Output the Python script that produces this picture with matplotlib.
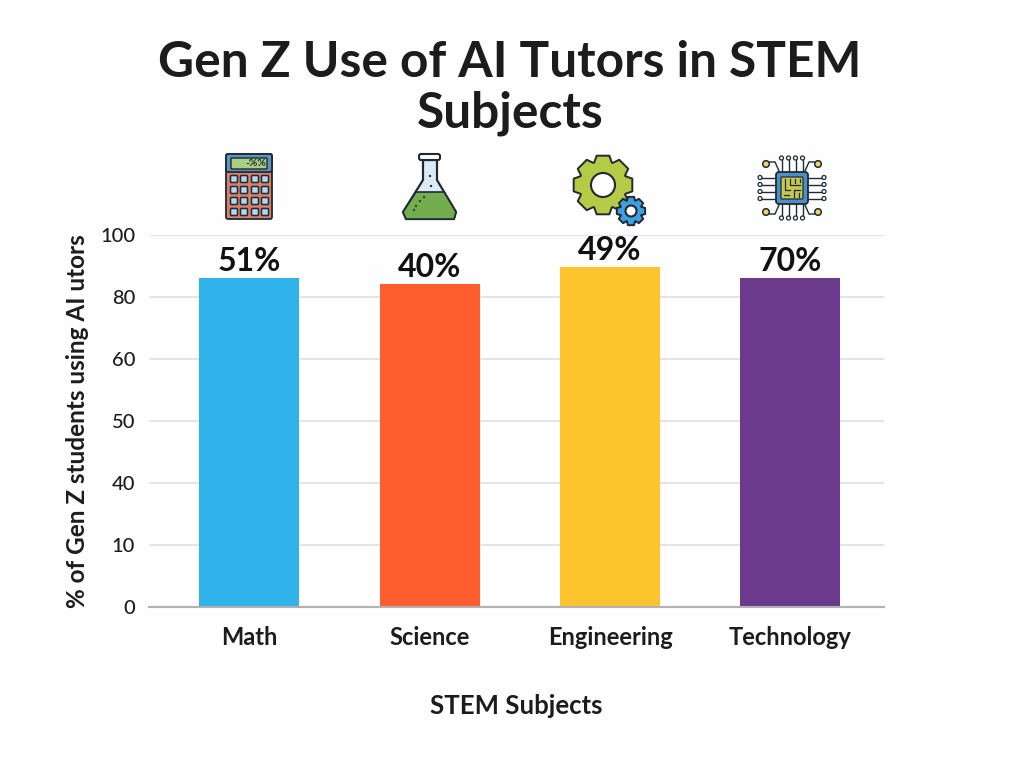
import numpy as np
import matplotlib
matplotlib.use("Agg")
import matplotlib.pyplot as plt
from matplotlib.patches import Rectangle, FancyBboxPatch, Polygon, Circle

# ---- data ----
title = "Gen Z Use of AI Tutors in STEM\nSubjects"
subjects = ["Math", "Science", "Engineering", "Technology"]
bar_heights = [86.1, 84.2, 89.7, 86.1]       # heights as drawn on the axis
value_labels = ["51%", "40%", "49%", "70%"]  # labels as printed
bar_colors = ["#2fb3ea", "#fe5d2f", "#fdc42e", "#6b3a8c"]
y_ticks = [0, 10, 40, 50, 60, 80, 100]       # unevenly valued, evenly spaced
y_label = "% of Gen Z students using AI utors"
x_label = "STEM Subjects"

plt.rcParams["font.family"] = ["Lato", "DejaVu Sans"]
INK = "#1c1c1c"
W, H = 1024, 768
fig = plt.figure(figsize=(W / 100, H / 100), dpi=100, facecolor="#fefefe")
ax = fig.add_axes([149 / W, (H - 607) / H, 735 / W, 372 / H], facecolor="#fefefe")

slots = np.arange(len(y_ticks), dtype=float)
ax.set_yscale("function", functions=(lambda v: np.interp(v, y_ticks, slots),
                                     lambda s: np.interp(s, slots, y_ticks)))
ax.set_ylim(0, 100)
ax.set_yticks(y_ticks)
ax.set_yticklabels([str(t) for t in y_ticks], fontsize=14.5, fontweight="medium", color=INK)
ax.minorticks_off()
ax.grid(axis="y", color="#e4e4e4", lw=1.4, zorder=0)
ax.set_axisbelow(True)

x = np.arange(len(subjects))
bars = ax.bar(x, bar_heights, width=0.555, color=bar_colors, zorder=2)
for rect, lab in zip(bars, value_labels):
    ax.annotate(lab, (rect.get_x() + rect.get_width() / 2, rect.get_height()),
                xytext=(0, 12), textcoords="offset points", ha="center", va="center",
                fontsize=23, fontweight="bold", color="#111111")
ax.set_xlim(-0.557, 3.519)
ax.set_xticks(x)
ax.set_xticklabels(subjects, fontsize=17, fontweight="bold", color=INK)
ax.tick_params(axis="both", length=0)
ax.tick_params(axis="x", pad=14)
ax.tick_params(axis="y", pad=10)
for s in ["top", "left", "right"]:
    ax.spines[s].set_visible(False)
ax.spines["bottom"].set_color("#b2b2b2")
ax.spines["bottom"].set_linewidth(1.5)

ax.set_xlabel(x_label, fontsize=18.5, fontweight="bold", color=INK, labelpad=32)
ax.set_ylabel(y_label, fontsize=17.5, fontweight="bold", color=INK, labelpad=8)
fig.text(510 / W, 1 - 88 / H, title, ha="center", va="center", fontsize=35.7,
         fontweight="bold", color=INK, linespacing=1.15)

# ---- icons, drawn on a pixel overlay ----
ov = fig.add_axes([0, 0, 1, 1], facecolor="none")
ov.set_xlim(0, W); ov.set_ylim(H, 0); ov.axis("off")
K = "#1f2a33"

def round_box(x0, y0, w, h, fc, r=2, lw=1.3, ec=K, z=5):
    ov.add_patch(FancyBboxPatch((x0 + r, y0 + r), w - 2 * r, h - 2 * r,
                                boxstyle=f"round,pad={r},rounding_size={r}",
                                fc=fc, ec=ec, lw=lw, zorder=z))

# calculator
round_box(226, 154, 46, 65, "#d9806c", r=2)
round_box(226, 154, 46, 18, "#5f93bd", r=2, z=6)
round_box(231, 158, 36, 11, "#a9cf80", r=1, lw=1, z=7)
ov.text(256, 163.5, "-%%", ha="center", va="center", fontsize=7.5, fontweight="bold", color=K, zorder=8)
for yy in [179, 190, 201, 212]:
    for xx in [234, 244, 255, 265]:
        round_box(xx - 3.5, yy - 3.5, 7, 7, "#b7d6ee", r=1, lw=1.1, z=7)

# flask
outline = [(423, 160), (437, 160), (437, 180), (456, 212), (454, 219), (406, 219),
           (403, 212), (423, 180)]
ov.add_patch(Polygon(outline, closed=True, fc="#dcebf3", ec=K, lw=1.6, joinstyle="round", zorder=5))
liquid = [(416, 192), (444, 192), (456, 212), (454, 219), (406, 219), (403, 212)]
ov.add_patch(Polygon(liquid, closed=True, fc="#73ad4d", ec=K, lw=1.2, joinstyle="round", zorder=6))
round_box(419, 154, 21, 6, "#ffffff", r=2, lw=1.5, z=7)
for px, py, c in [(430, 176, K), (431, 186, K), (424, 197, "#2d4a22"), (420, 201, "#2d4a22"),
                  (416, 206, "#2d4a22"), (414, 210, "#2d4a22")]:
    ov.add_patch(Circle((px, py), 1.2, fc=c, ec="none", zorder=8))

# gears
def gear(cx, cy, r_out, r_in, r_hole, n, fc):
    pts = []
    step = 2 * np.pi / n
    for i in range(n):
        a = i * step - np.pi / 2
        for da, r in [(-0.30, r_in), (-0.17, r_out), (0.17, r_out), (0.30, r_in)]:
            pts.append((cx + r * np.cos(a + da * step * 1.6), cy + r * np.sin(a + da * step * 1.6)))
    ov.add_patch(Polygon(pts, closed=True, fc=fc, ec=K, lw=1.4, joinstyle="round", zorder=5))
    ov.add_patch(Circle((cx, cy), r_hole, fc="#ffffff", ec=K, lw=1.5, zorder=6))

gear(603, 185, 30, 24, 12, 8, "#b5cb45")
gear(631, 211, 14.5, 11, 5.5, 8, "#3f9fe0")

# chip
cx, cy = 792, 188
offs = [-10.5, -3.5, 3.5, 10.5]
for o in offs:
    ov.plot([cx + o, cx + o], [cy - 16, cy - 29], color=K, lw=1, zorder=4)
    ov.plot([cx + o, cx + o], [cy + 16, cy + 29], color=K, lw=1, zorder=4)
    ov.plot([cx - 16, cx - 31], [cy + o, cy + o], color=K, lw=1, zorder=4)
    ov.plot([cx + 16, cx + 31], [cy + o, cy + o], color=K, lw=1, zorder=4)
    for dx, dy in [(o, -30), (o, 30), (-32, o), (32, o)]:
        ov.add_patch(Circle((cx + dx, cy + dy), 2, fc="#ffffff", ec=K, lw=0.9, zorder=5))
for sx, sy in [(-1, -1), (1, -1), (-1, 1), (1, 1)]:
    ov.plot([cx + sx * 13, cx + sx * 17, cx + sx * 25], [cy + sy * 17, cy + sy * 26, cy + sy * 26],
            color=K, lw=1, zorder=4)
    ov.add_patch(Circle((cx + sx * 26, cy + sy * 24), 3.3, fc="#ecd26a", ec=K, lw=1.1, zorder=5))
round_box(cx - 16, cy - 16, 32, 32, "#4b8fc8", r=3, lw=1.3, z=6)
round_box(cx - 11, cy - 11, 22, 22, "#c6c94f", r=1, lw=0.9, z=7)
for pts in [[(-7, -9), (-7, 2), (-2, 2)], [(-2, -9), (-2, -3), (8, -3)], [(3, -9), (3, -5)],
            [(8, -9), (8, -6)], [(2, 9), (2, 2), (8, 2)], [(7, 9), (7, 5)], [(-8, 7), (-3, 7)]]:
    ov.plot([cx + p[0] for p in pts], [cy + p[1] for p in pts], color=K, lw=0.9, zorder=8)

fig.savefig("out.png", dpi=100, facecolor=fig.get_facecolor())
